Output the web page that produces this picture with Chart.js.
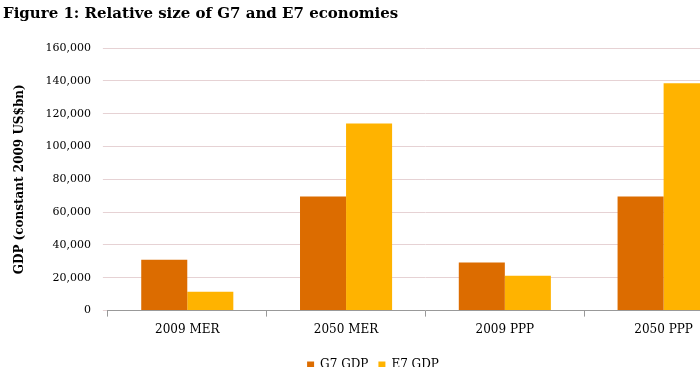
<!DOCTYPE html>
<html>
<head>
<meta charset="utf-8">
<script src="https://cdn.jsdelivr.net/npm/chart.js@4"></script>
<style>
  html, body { margin: 0; padding: 0; background: #fff; overflow: hidden; }
  #wrap { position: relative; width: 760px; height: 381px; }
</style>
</head>
<body>
<div id="wrap"><canvas id="chart" width="760" height="381"></canvas></div>
<script>
"use strict";

// Chart data

var CATEGORIES = ["2009 MER", "2050 MER", "2009 PPP", "2050 PPP"],
	G7_GDP = [31000, 69500, 29300, 69500],
	E7_GDP = [11500, 114000, 21200, 138500];

var TITLE = "Figure 1: Relative size of G7 and E7 economies",
	Y_TITLE = "GDP (constant 2009 US$bn)";

var G7_COLOR = "#dc6c00",
	E7_COLOR = "#ffb300",
	SERIF = "'DejaVu Serif', Georgia, serif";

// thousands separator for the y ticks
function formatTick(value) {
	return value.toString().replace(/\B(?=(\d{3})+(?!\d))/g, ",");
}

var chart = new Chart(document.getElementById("chart"), {
	type: "bar",
	data: {
		labels: CATEGORIES,
		datasets: [
			{ label: "G7 GDP", data: G7_GDP, backgroundColor: G7_COLOR },
			{ label: "E7 GDP", data: E7_GDP, backgroundColor: E7_COLOR }
		]
	},
	options: {
		responsive: false,
		animation: false,
		layout: { padding: { left: 3, right: 17, top: 0, bottom: 0 } },
		datasets: { bar: { categoryPercentage: 0.58, barPercentage: 1.0 } },
		plugins: {
			title: {
				display: true,
				text: TITLE,
				align: "start",
				color: "#000",
				font: { family: SERIF, size: 15, weight: "bold" },
				padding: { top: 5, bottom: 25 }
			},
			legend: {
				position: "bottom",
				labels: {
					boxWidth: 7,
					boxHeight: 7,
					padding: 10,
					color: "#000",
					font: { family: SERIF, size: 12 }
				}
			},
			tooltip: { enabled: false }
		},
		scales: {
			x: {
				grid: {
					drawOnChartArea: false,
					drawTicks: true,
					offset: true,
					tickLength: 6,
					color: "#999"
				},
				border: { color: "#999" },
				ticks: {
					color: "#000",
					padding: 6,
					font: { family: SERIF, size: 12 }
				},
				// extra room between the labels and the legend
				afterFit: function (scale) {
					scale.height += 6;
				}
			},
			y: {
				min: 0,
				max: 160000,
				grid: {
					color: "#e6d2d4",
					drawTicks: true,
					tickLength: 5
				},
				border: { display: false },
				ticks: {
					stepSize: 20000,
					color: "#000",
					padding: 12,
					font: { family: SERIF, size: 11 },
					callback: formatTick
				},
				title: {
					display: true,
					text: Y_TITLE,
					color: "#000",
					font: { family: SERIF, size: 12, weight: "bold" },
					padding: { top: 10, bottom: 6 }
				}
			}
		}
	}
});
</script>
</body>
</html>
